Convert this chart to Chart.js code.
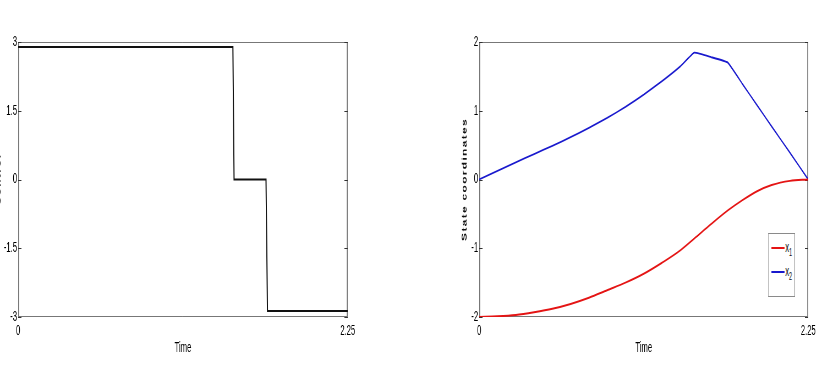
<!DOCTYPE html>
<html lang="en">
<head>
<meta charset="UTF-8">
<title>Control and state coordinates</title>
<script src="https://cdn.jsdelivr.net/npm/chart.js"></script>
<style>
  html, body { margin: 0; padding: 0; background: #fff; }
  #wrap { position: relative; width: 822px; height: 366px; overflow: hidden; }
  /* the original figure is squeezed sideways, so draw wide and scale down in x */
  #stage { position: absolute; left: 0; top: 0; width: 1494px; height: 366px;
           transform: scaleX(0.5502); transform-origin: 0 0; }
  canvas { position: absolute; top: 0; }
  #left { left: 0; }
  #right { left: 747px; }
  #legend {
    position: absolute; left: 1396px; top: 233px; width: 49px; height: 64px;
    border: 1.5px solid #8a8a8a; background: #fff; box-sizing: border-box;
    padding-top: 1px;
    font: 14px 'Liberation Sans', Arial, sans-serif; color: #111;
  }
  #legend .row { height: 24px; line-height: 24px; white-space: nowrap; }
  #legend .swatch { display: inline-block; width: 24px; height: 0; border-top: 2px solid; vertical-align: middle; margin: 0 1px 0 5px; }
  #legend sub { font-size: 10px; }
</style>
</head>
<body>
<div id="wrap">
  <div id="stage">
    <canvas id="left" width="747" height="366"></canvas>
    <canvas id="right" width="747" height="366"></canvas>
    <div id="legend"></div>
  </div>
</div>
<script>
// control u(t), piecewise constant
const timeControl = [0, 1.466, 1.474, 1.692, 1.702, 2.25];
const control = [2.89, 2.89, 0, 0, -2.87, -2.87];

// state trajectories
const timeState = [0, 0.125, 0.25, 0.375, 0.5, 0.625, 0.75, 0.875, 1.0, 1.125, 1.25, 1.375, 1.47, 1.585, 1.70, 1.8, 1.9, 2.0, 2.125, 2.25];
const x1 = [-2, -1.99, -1.97, -1.93, -1.88, -1.81, -1.72, -1.61, -1.50, -1.37, -1.21, -1.03, -0.86, -0.65, -0.45, -0.30, -0.17, -0.08, -0.02, 0];
const x2 = [0, 0.125, 0.25, 0.37, 0.49, 0.615, 0.75, 0.895, 1.055, 1.235, 1.43, 1.645, 1.845, 1.78, 1.70, 1.39, 1.08, 0.77, 0.39, 0];

// ticks
const timeTicks = [0, 2.25];
const controlTicks = [-3, -1.5, 0, 1.5, 3];
const stateTicks = [-2, -1, 0, 1, 2];

const fam = "'Liberation Sans', Arial, sans-serif";
const tickFont = { family: fam, size: 14 };

// box round the axes and inward ticks, matlab style
const boxPlugin = {
  id: 'box',
  beforeDatasetsDraw(chart) {
    const { ctx, chartArea: a, scales } = chart;
    ctx.save();
    ctx.strokeStyle = '#777';
    ctx.lineWidth = 1;
    ctx.beginPath();
    ctx.moveTo(a.left, a.top + 0.5); ctx.lineTo(a.right, a.top + 0.5);
    ctx.moveTo(a.left, a.bottom - 0.5); ctx.lineTo(a.right, a.bottom - 0.5);
    ctx.stroke();
    ctx.lineWidth = 1.8;
    ctx.beginPath();
    ctx.moveTo(a.left + 0.9, a.top); ctx.lineTo(a.left + 0.9, a.bottom);
    ctx.moveTo(a.right - 0.9, a.top); ctx.lineTo(a.right - 0.9, a.bottom);
    ctx.stroke();
    ctx.strokeStyle = '#333';
    ctx.lineWidth = 1;
    scales.y.ticks.forEach(t => {
      const py = Math.round(scales.y.getPixelForValue(t.value)) + 0.5;
      ctx.beginPath();
      ctx.moveTo(a.left, py); ctx.lineTo(a.left + 6, py);
      ctx.moveTo(a.right - 6, py); ctx.lineTo(a.right, py);
      ctx.stroke();
    });
    ctx.restore();
  }
};

// rotated y title with letter spacing
const sideTitle = {
  id: 'sideTitle',
  afterDraw(chart, args, opts) {
    const { ctx, chartArea: a } = chart;
    ctx.save();
    ctx.translate(opts.x, (a.top + a.bottom) / 2);
    ctx.rotate(-Math.PI / 2);
    ctx.font = 'bold 12px ' + fam;
    ctx.letterSpacing = '1.3px';
    ctx.fillStyle = '#111';
    ctx.textAlign = 'center';
    ctx.textBaseline = 'middle';
    ctx.fillText(opts.text, 0, 0);
    ctx.restore();
  }
};

function pairs(xs, ys) {
  return xs.map((x, i) => ({ x: x, y: ys[i] }));
}

function makeChart(id, datasets, yMin, yMax, yTicks, padLeft, padRight, title, titleX) {
  return new Chart(document.getElementById(id), {
    type: 'line',
    data: { datasets: datasets },
    options: {
      responsive: false,
      animation: false,
      layout: { padding: { left: padLeft, right: padRight, top: 42, bottom: 0 } },
      elements: { point: { radius: 0 } },
      scales: {
        x: {
          type: 'linear', min: 0, max: 2.25,
          afterBuildTicks: s => { s.ticks = timeTicks.map(v => ({ value: v })); },
          afterFit: s => { s.height = 49; },
          grid: { display: false, drawTicks: false, tickLength: 0 }, border: { display: false },
          ticks: { font: tickFont, color: '#000', padding: 6, maxRotation: 0, callback: v => String(v) },
          title: { display: true, text: 'Time', font: { family: fam, size: 14 }, color: '#000', padding: { top: 0, bottom: 9 } }
        },
        y: {
          min: yMin, max: yMax,
          afterBuildTicks: s => { s.ticks = yTicks.map(v => ({ value: v })); },
          afterFit: s => { s.width = 33; },
          grid: { display: false, drawTicks: false, tickLength: 0 }, border: { display: false },
          ticks: { font: tickFont, color: '#000', padding: 2, callback: v => String(v) }
        }
      },
      plugins: {
        legend: { display: false },
        tooltip: { enabled: false },
        sideTitle: { text: title, x: titleX }
      }
    },
    plugins: [boxPlugin, sideTitle]
  });
}

makeChart('left', [{
  label: 'u',
  data: pairs(timeControl, control),
  borderColor: '#111', borderWidth: 2, tension: 0
}], -3, 3, controlTicks, 0, 115, 'Control', -2);

const right = makeChart('right', [{
  label: 'x1',
  data: pairs(timeState, x1),
  borderColor: 'rgb(228,20,20)', borderWidth: 2, cubicInterpolationMode: 'monotone'
}, {
  label: 'x2',
  data: pairs(timeState, x2),
  borderColor: 'rgb(25,25,205)', borderWidth: 1.8, tension: 0.1
}], -2, 2, stateTicks, 91, 25, 'State coordinates', 98);

// legend from the datasets, with subscripts
const legend = document.getElementById('legend');
right.data.datasets.forEach(ds => {
  const row = document.createElement('div');
  row.className = 'row';
  row.innerHTML = '<span class="swatch" style="border-color:' + ds.borderColor + '"></span>' +
    ds.label[0] + '<sub>' + ds.label.slice(1) + '</sub>';
  legend.appendChild(row);
});
</script>
</body>
</html>
